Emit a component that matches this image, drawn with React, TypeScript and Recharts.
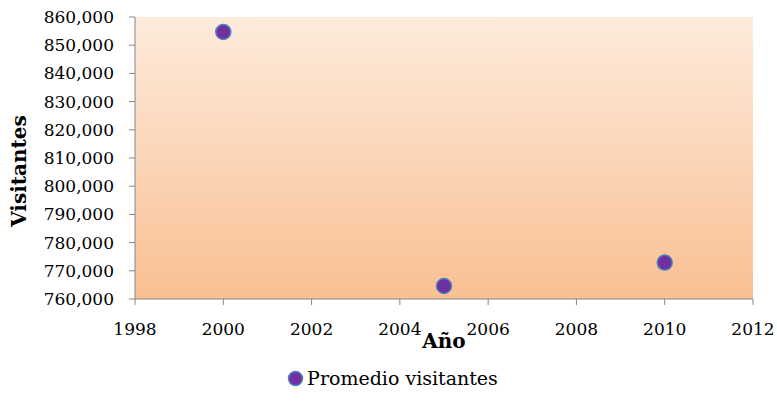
import React from 'react';
import { ScatterChart, Scatter, XAxis, YAxis, ReferenceArea, Legend, Label } from 'recharts';

const years = [2000, 2005, 2010];
const visitors = [854700, 764600, 772900];
const xTicks = [1998, 2000, 2002, 2004, 2006, 2008, 2010, 2012];
const yTicks = [760000, 770000, 780000, 790000, 800000, 810000, 820000, 830000, 840000, 850000, 860000];
const seriesName = 'Promedio visitantes';
const xTitle = 'Año';
const yTitle = 'Visitantes';

const data = years.map((y, i) => ({ year: y, value: visitors[i] }));

const FONT = '"DejaVu Serif", serif';
const AXIS = '#868686';
const FILL = '#7030A0';
const EDGE = '#4F81BD';

const Dot = (props: any) => (
  <circle cx={props.cx} cy={props.cy} r={7.5} fill={FILL} stroke={EDGE} strokeWidth={1.5} />
);

const XTick = (props: any) => (
  <text x={props.x} y={props.y} dy={14} textAnchor="middle" fontFamily={FONT} fontSize={17} fill="#000">
    {props.payload.value}
  </text>
);

const LegendContent = () => (
  <div style={{ display: 'flex', justifyContent: 'center', alignItems: 'center', fontFamily: FONT, fontSize: 19, color: '#000', paddingLeft: 8 }}>
    <svg width={17} height={17} style={{ marginRight: 3 }}>
      <circle cx={8.5} cy={8.5} r={7} fill={FILL} stroke={EDGE} strokeWidth={1.5} />
    </svg>
    <span>{seriesName}</span>
  </div>
);

export default function App() {
  return (
    <div style={{ position: 'absolute', left: 0, top: 0, width: 777, height: 420, background: '#fff' }}>
      <ScatterChart width={777} height={420} margin={{ top: 17, right: 24, bottom: 0, left: 0 }}>
        <defs>
          <linearGradient id="bg" x1="0" y1="0" x2="0" y2="1">
            <stop offset="0%" stopColor="#FDEBDC" />
            <stop offset="100%" stopColor="#F9C093" />
          </linearGradient>
        </defs>
        <ReferenceArea x1={1998} x2={2012} y1={760000} y2={860000} fill="url(#bg)" fillOpacity={1} stroke="none" />
        <XAxis
          type="number"
          dataKey="year"
          domain={[1998, 2012]}
          ticks={xTicks}
          height={71}
          stroke={AXIS}
          tickSize={6}
          tickMargin={16}
          tick={<XTick />}
          allowDataOverflow
        >
          <Label
            content={(p: any) => (
              <text x={p.viewBox.x + p.viewBox.width / 2} y={341} textAnchor="middle" dominantBaseline="central" fontFamily={FONT} fontSize={20} fontWeight="bold" fill="#000">
                {xTitle}
              </text>
            )}
          />
        </XAxis>
        <YAxis
          type="number"
          dataKey="value"
          domain={[760000, 860000]}
          ticks={yTicks}
          width={135}
          stroke={AXIS}
          tickSize={6}
          tickMargin={15}
          tickFormatter={(v: number) => v.toLocaleString('en-US')}
          tick={{ fill: '#000', fontFamily: FONT, fontSize: 17 }}
          allowDataOverflow
        >
          <Label
            content={(p: any) => (
              <text x={19} y={p.viewBox.y + p.viewBox.height / 2 + 13} textAnchor="middle" dominantBaseline="central" fontFamily={FONT} fontSize={20} fontWeight="bold" fill="#000" transform={`rotate(-90, 19, ${p.viewBox.y + p.viewBox.height / 2 + 13})`}>
                {yTitle}
              </text>
            )}
          />
        </YAxis>
        <Legend verticalAlign="bottom" height={50} content={<LegendContent />} wrapperStyle={{ top: 367, left: 0, width: 777 }} />
        <Scatter name={seriesName} data={data} shape={<Dot />} isAnimationActive={false} />
      </ScatterChart>
    </div>
  );
}
